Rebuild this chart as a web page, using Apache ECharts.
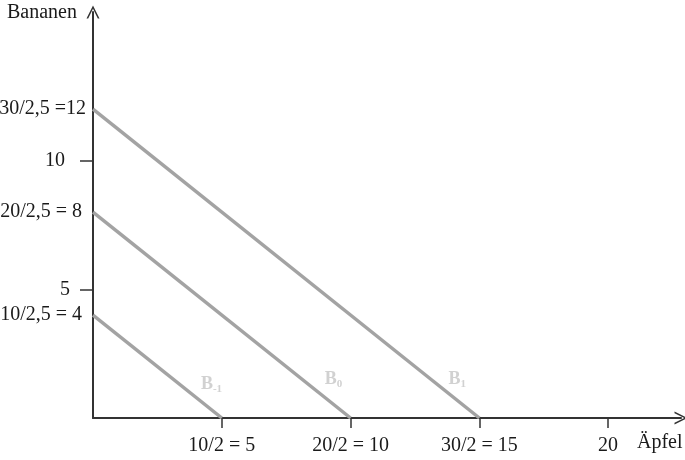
<!DOCTYPE html>
<html>
<head>
<meta charset="utf-8">
<script src="https://cdn.jsdelivr.net/npm/echarts@6/dist/echarts.min.js"></script>
<style>
  html, body { margin: 0; padding: 0; background: #fff; }
  #chart { width: 685px; height: 460px; }
</style>
</head>
<body>
<div id="chart"></div>
<script>
// Budgetgeraden: Äpfel (x) / Bananen (y)
var budgetNames = ['B-1', 'B0', 'B1'];
var budgetLines = [
  [[0, 4], [5, 0]],
  [[0, 8], [10, 0]],
  [[0, 12], [15, 0]]
];
var budgetLabelPos = [[4.19, 1.32], [9.0, 1.5], [13.8, 1.5]];

var xTicks = [5, 10, 15, 20];
var xTickLabels = { 5: '10/2 = 5', 10: '20/2 = 10', 15: '30/2 = 15', 20: '20' };
var yTicks = [5, 10];
var yLabelValues = [4, 5, 8, 10, 12];
var yTickLabels = { 4: '10/2,5 = 4', 5: '5', 8: '20/2,5 = 8', 10: '10', 12: '30/2,5 =12' };

var FONT = '"Liberation Serif", "DejaVu Serif", serif';
var AXIS_COLOR = '#333';
var LINE_COLOR = '#a3a3a3';
var LABEL_COLOR = '#c6c6c6';
var TEXT_COLOR = '#1a1a1a';

// offene Pfeilspitze (zeigt nach oben, wird von echarts gedreht)
var arrowPath = 'path://M0,10 L5,0 L10,10 L8.7,10 L5,2.5 L1.3,10 Z';

var chart = echarts.init(document.getElementById('chart'));

var series = budgetLines.map(function (pts, i) {
  return {
    name: budgetNames[i],
    type: 'line',
    data: pts,
    symbol: 'none',
    lineStyle: { color: LINE_COLOR, width: 3.5 },
    z: 2
  };
});

series.push({
  type: 'scatter',
  data: budgetLabelPos.map(function (p, i) {
    return { value: p, name: budgetNames[i] };
  }),
  symbolSize: 0,
  silent: true,
  label: {
    show: true,
    position: 'right',
    distance: 0,
    formatter: function (p) {
      var sub = p.name.slice(1);
      return '{b|B}{s|' + sub + '}';
    },
    rich: {
      b: { fontFamily: FONT, fontWeight: 'bold', fontSize: 18, color: LABEL_COLOR },
      s: { fontFamily: FONT, fontWeight: 'bold', fontSize: 11, color: LABEL_COLOR, padding: [10, 0, 0, 0] }
    }
  }
});

chart.setOption({
  backgroundColor: '#fff',
  animation: false,
  grid: { left: 93, top: 12, width: 588, height: 406, outerBoundsMode: 'none', containLabel: false },
  xAxis: {
    type: 'value',
    min: 0,
    max: 22.83,
    splitLine: { show: false },
    axisLine: {
      show: true,
      onZero: false,
      symbol: ['none', arrowPath],
      symbolSize: [15, 13],
      lineStyle: { color: AXIS_COLOR, width: 2 }
    },
    axisTick: {
      show: true,
      customValues: xTicks,
      length: 10,
      lineStyle: { color: AXIS_COLOR, width: 1.5 }
    },
    axisLabel: {
      customValues: xTicks,
      margin: 18,
      fontFamily: FONT,
      fontSize: 20,
      color: TEXT_COLOR,
      formatter: function (v) { return xTickLabels[v] || ''; }
    }
  },
  yAxis: {
    type: 'value',
    min: 0,
    max: 15.77,
    splitLine: { show: false },
    axisLine: {
      show: true,
      onZero: false,
      symbol: ['none', arrowPath],
      symbolSize: [14, 13],
      lineStyle: { color: AXIS_COLOR, width: 2 }
    },
    axisTick: {
      show: true,
      customValues: yTicks,
      length: 13,
      lineStyle: { color: AXIS_COLOR, width: 1.5 }
    },
    axisLabel: {
      customValues: yLabelValues,
      margin: 7,
      fontFamily: FONT,
      fontSize: 20,
      color: TEXT_COLOR,
      formatter: function (v) {
        var t = yTickLabels[v] || '';
        if (v === 10) return '{far|' + t + '}';
        if (v === 5) return '{mid|' + t + '}';
        if (v === 12) return t;
        return '{near|' + t + '}';
      },
      rich: {
        far: { fontFamily: FONT, fontSize: 20, color: TEXT_COLOR, padding: [0, 21, 0, 0] },
        mid: { fontFamily: FONT, fontSize: 20, color: TEXT_COLOR, padding: [0, 16, 0, 0] },
        near: { fontFamily: FONT, fontSize: 20, color: TEXT_COLOR, padding: [0, 4, 0, 0] }
      }
    }
  },
  graphic: [
    {
      type: 'text',
      left: 7,
      top: 3,
      style: { text: 'Bananen', font: '20px ' + FONT, fill: TEXT_COLOR }
    },
    {
      type: 'text',
      left: 637,
      top: 433,
      style: { text: 'Äpfel', font: '20px ' + FONT, fill: TEXT_COLOR }
    }
  ],
  series: series
});
</script>
</body>
</html>
